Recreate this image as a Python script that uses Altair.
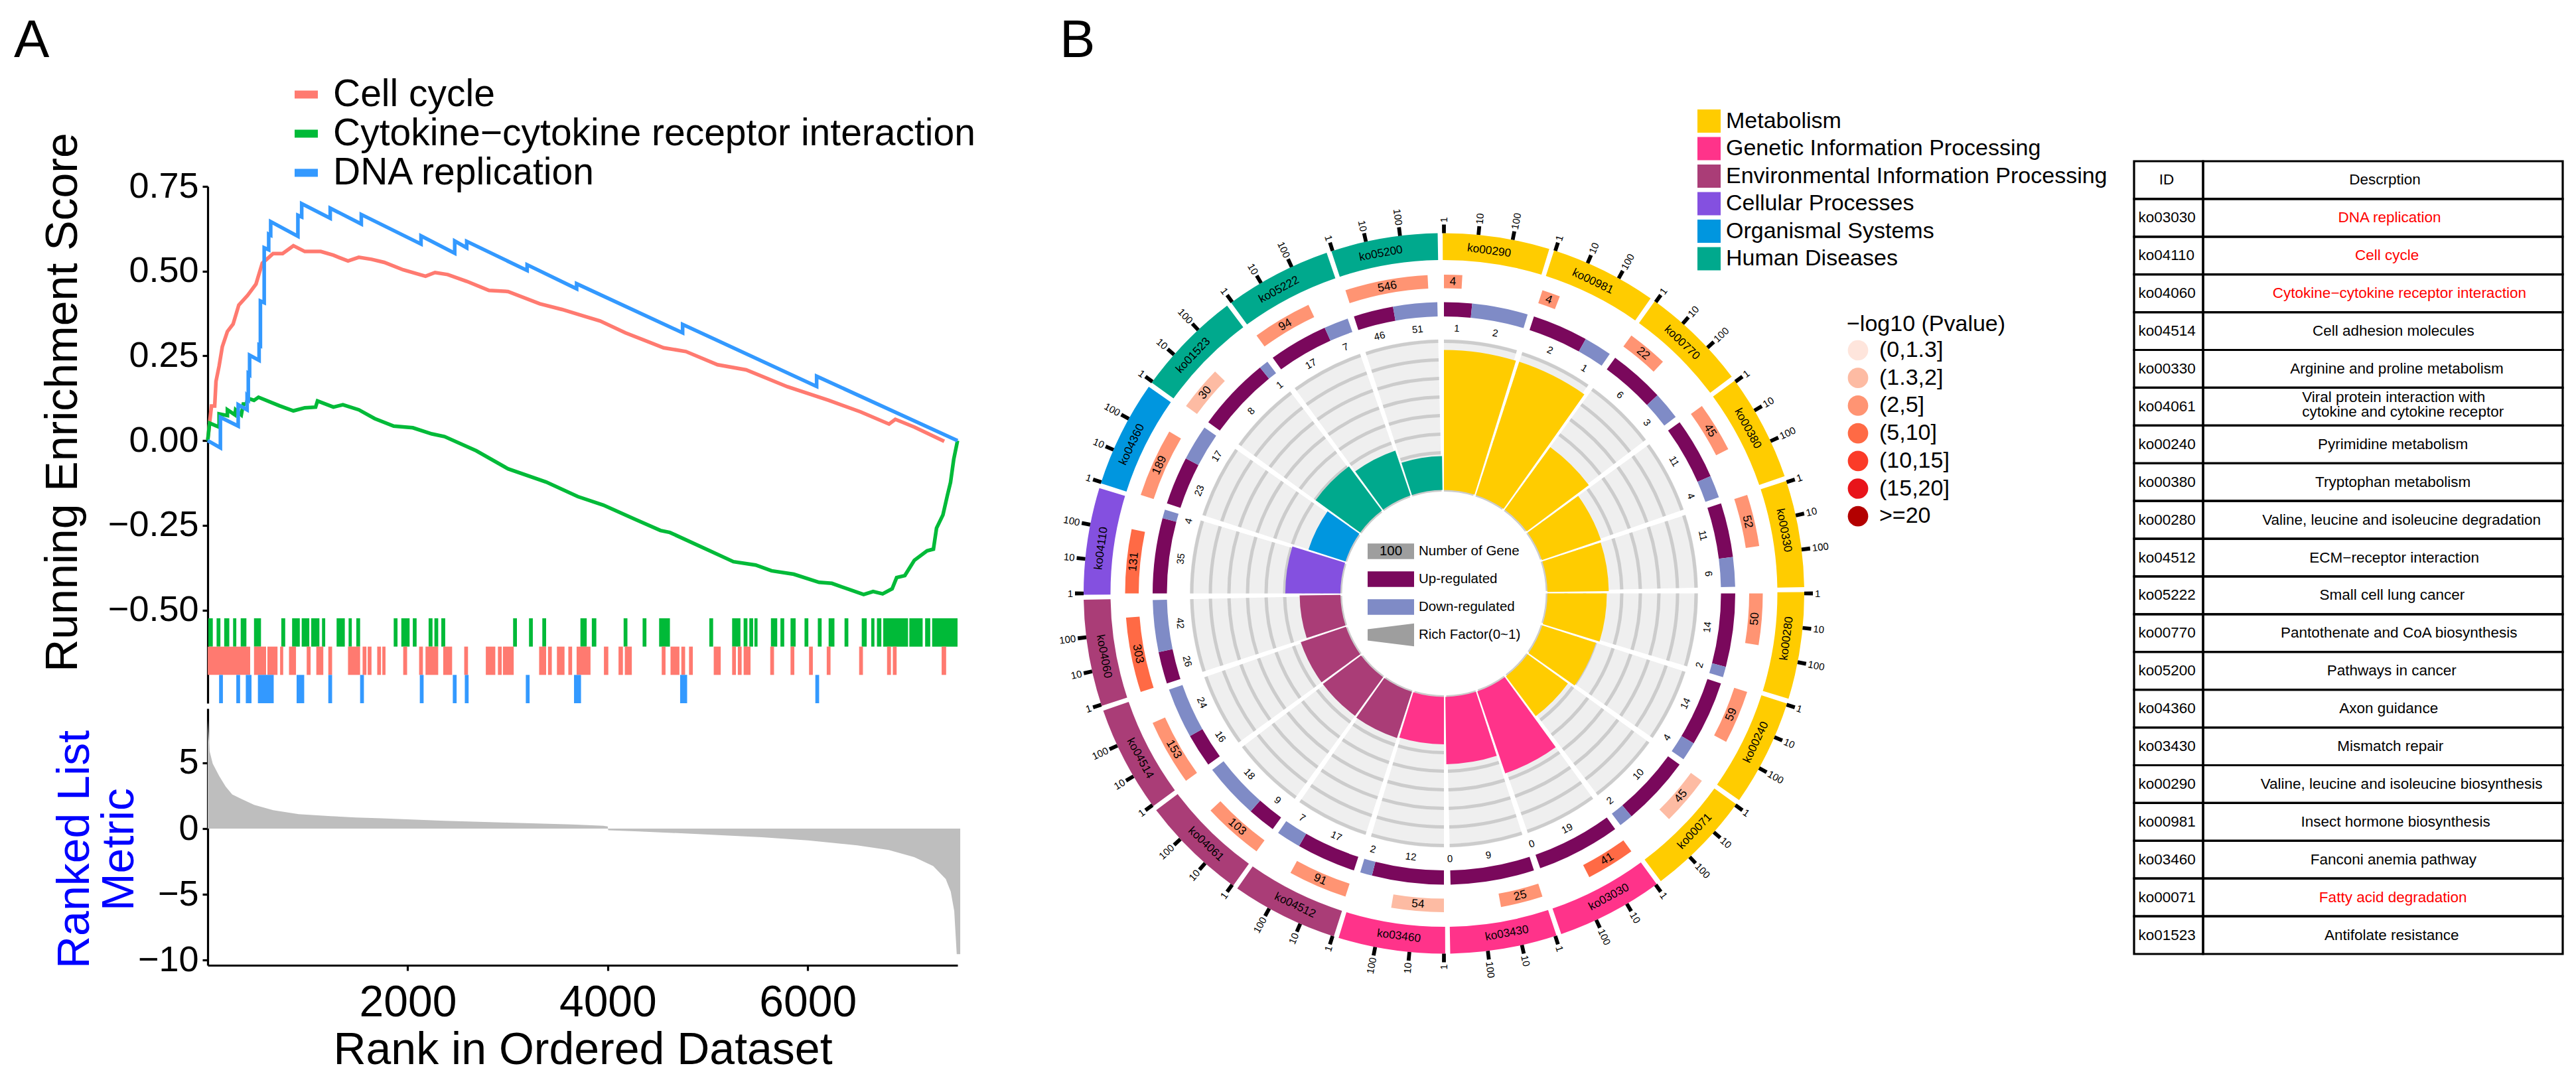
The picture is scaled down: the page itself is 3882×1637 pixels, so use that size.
import math
import altair as alt
import pandas as pd

FONT = "Liberation Sans"
W, H = 3866, 1621
CX, CY = 2168, 886.5

# ---------- Panel A ----------
rank_dna = [0,127,127,305,305,394,394,406,406,419,419,514,514,527,527,565,565,610,610,630,630,902,902,940,940,1225,1225,1536,1536,2133,2133,2470,2470,2590,2590,3194,3194,3689,3689,4749,4749,6089,6089,7498]
es_dna = [0,-.021,.069,.043,.106,.091,.130,.125,.198,.195,.252,.237,.282,.280,.412,.407,.569,.563,.609,.606,.646,.603,.665,.660,.699,.656,.686,.639,.667,.580,.604,.553,.589,.569,.588,.502,.519,.448,.463,.318,.343,.160,.190,0]
rank_cell = [0,19,38,70,83,114,146,197,254,311,400,483,546,590,654,749,857,971,1130,1257,1403,1511,1638,1765,1955,2178,2273,2400,2590,2813,3003,3320,3543,3765,3924,4178,4559,4781,5098,5384,5797,6209,6527,6813,6876,7066,7365]
es_cell = [0,.052,.102,.102,.175,.220,.277,.322,.344,.400,.429,.462,.524,.535,.552,.552,.575,.558,.558,.547,.530,.541,.535,.526,.504,.485,.496,.490,.470,.443,.440,.404,.387,.367,.353,.318,.274,.263,.224,.209,.159,.119,.085,.049,.063,.040,-.002]
rank_cyto = [0,19,114,114,197,197,273,279,336,356,387,400,463,508,717,857,971,1079,1098,1257,1352,1511,1670,1860,2051,2241,2368,2686,3003,3384,3701,3955,4273,4527,4622,5035,5257,5479,5638,5860,6114,6241,6559,6654,6749,6844,6889,6971,7066,7193,7257,7288,7352,7396,7428,7460,7498]
es_cyto = [0,.052,.040,.079,.074,.091,.076,.091,.076,.108,.108,.125,.119,.128,.103,.088,.097,.099,.117,.099,.106,.091,.065,.043,.038,.020,.012,-.030,-.083,-.122,-.165,-.190,-.232,-.265,-.271,-.327,-.357,-.367,-.384,-.394,-.418,-.421,-.454,-.445,-.452,-.437,-.404,-.398,-.353,-.325,-.320,-.258,-.219,-.162,-.123,-.055,0]
series_names = ["Cell cycle", "Cytokine\u2212cytokine receptor interaction", "DNA replication"]
series_colors = ["#FF7A70", "#00BA38", "#3399FF"]

rug_green = [(6,51),(89,127),(165,216),(254,286),(330,387),(463,533),(736,775),(844,921),(940,1016),(1035,1117),(1143,1175),(1289,1371),(1409,1441),(1486,1524),(1860,1898),(1936,2019),(2051,2089),(2209,2248),(2267,2305),(2336,2375),(3054,3092),(3213,3251),(3346,3384),(3727,3790),(3841,3886),(4159,4197),(4349,4387),(4514,4622),(5016,5054),(5244,5327),(5359,5397),(5416,5454),(5467,5498),(5632,5695),(5727,5765),(5828,5879),(5968,6006),(6101,6139),(6209,6267),(6368,6406),(6540,6590),(6635,6667),(6692,6736),(6755,7003),(7016,7149),(7174,7225),(7244,7498)]
rug_cell = [(0,425),(463,584),(597,698),(724,755),(813,883),(990,1029),(1086,1156),(1206,1244),(1403,1524),(1549,1587),(1600,1638),(1695,1733),(1746,1778),(1955,1994),(2114,2152),(2178,2305),(2355,2444),(2565,2603),(2781,2876),(2902,2940),(2952,3060),(3314,3384),(3403,3441),(3492,3568),(3606,3644),(3689,3828),(3962,4006),(4108,4152),(4171,4241),(4540,4578),(4628,4717),(4736,4774),(4813,4851),(5060,5130),(5244,5282),(5301,5339),(5359,5428),(5625,5663),(5828,5866),(6013,6051),(6190,6228),(6514,6552),(6793,6832),(6851,6889),(7339,7384)]
rug_dna = [(114,152),(286,324),(381,438),(502,660),(889,965),(1206,1244),(1524,1562),(2121,2159),(2451,2489),(2571,2609),(3181,3219),(3663,3733),(4724,4794),(6076,6114)]

metric_rank = [0,19,50,115,180,245,340,465,655,910,1230,1480,1740,2370,3000,3640,3955,4000,4005,4270,4905,5540,6000,6495,6810,7065,7255,7380,7430,7465,7490,7525]
metric_value = [8.25,5.9,4.95,4.0,3.2,2.6,2.25,1.8,1.4,1.1,.95,.85,.78,.6,.46,.32,.22,.17,-.12,-.2,-.41,-.65,-.9,-1.27,-1.63,-2.17,-2.85,-3.83,-4.8,-6.27,-9.56,-9.56]

# ---------- Panel B ----------
sector_ids = ["ko00290","ko00981","ko00770","ko00380","ko00330","ko00280","ko00240","ko00071","ko03030","ko03430","ko03460","ko04512","ko04061","ko04514","ko04060","ko04110","ko04360","ko01523","ko05222","ko05200"]
category_names = ["Metabolism","Genetic Information Processing","Environmental Information Processing","Cellular Processes","Organismal Systems","Human Diseases"]
category_colors = ["#FFCC00","#FF338A","#AA3D77","#8450E0","#0096DF","#00A98D"]
sector_category = [0,0,0,0,0,0,0,0,1,1,1,2,2,2,2,3,4,5,5,5]
gene_counts = [4,4,22,45,52,50,59,45,41,25,54,91,103,153,303,131,189,30,94,546]
pvalue_names = ["(0,1.3]","(1.3,2]","(2,5]","(5,10]","(10,15]","(15,20]",">=20"]
pvalue_colors = ["#FEE5DC","#FDBBA3","#FF9473","#FF6A45","#FB3B28","#E8141A","#B30000"]
sector_pvalue = [2,2,2,2,2,2,2,1,3,2,1,2,2,2,3,3,2,1,2,2]
up_genes = [1,2,6,11,11,14,14,10,19,9,12,17,9,16,26,35,23,8,17,46]
down_genes = [2,1,3,4,6,2,4,2,0,0,2,7,18,24,42,4,17,1,7,51]
rich_factor = [.93,.93,.514,.414,.407,.394,.374,.33,.575,.447,.315,.322,.317,.317,.271,.366,.258,.366,.315,.225]
tick_labels = ["1","10","100"]
key_labels = ["Number of Gene","Up-regulated","Down-regulated","Rich Factor(0~1)"]

# ---------- Table ----------
table_ids = ["ko03030","ko04110","ko04060","ko04514","ko00330","ko04061","ko00240","ko00380","ko00280","ko04512","ko05222","ko00770","ko05200","ko04360","ko03430","ko00290","ko00981","ko03460","ko00071","ko01523"]
table_desc = ["DNA replication","Cell cycle","Cytokine\u2212cytokine receptor interaction","Cell adhesion molecules","Arginine and proline metabolism","","Pyrimidine metabolism","Tryptophan metabolism","Valine, leucine and isoleucine degradation","ECM\u2212receptor interaction","Small cell lung cancer","Pantothenate and CoA biosynthesis","Pathways in cancer","Axon guidance","Mismatch repair","Valine, leucine and isoleucine biosynthesis","Insect hormone biosynthesis","Fanconi anemia pathway","Fatty acid degradation","Antifolate resistance"]
table_desc_pos = [.596,.590,.619,.605,.613,.628,.604,.604,.624,.607,.602,.618,.601,.594,.598,.624,.610,.605,.604,.601]
table_red = ["DNA replication","Cell cycle","Cytokine\u2212cytokine receptor interaction","Fatty acid degradation"]

# ---------- tables built from the lists ----------
def path(name, ranks, vals):
    return [{"series": name, "rank": r, "es": v, "i": i} for i, (r, v) in enumerate(zip(ranks, vals))]

es_df = pd.DataFrame(path(series_names[0], rank_cell, es_cell) + path(series_names[1], rank_cyto, es_cyto) + path(series_names[2], rank_dna, es_dna))
rug_rows = []
for row, (name, pairs) in enumerate([(series_names[1], rug_green), (series_names[0], rug_cell), (series_names[2], rug_dna)]):
    for a, b in pairs:
        rug_rows.append({"series": name, "a": a, "b": b, "r0": row, "r1": row + 1})
rug_df = pd.DataFrame(rug_rows)
metric_df = pd.DataFrame({"rank": metric_rank, "v": metric_value, "base": 0})

def rot(a):
    a = a % 360
    return a if (a < 90 or a > 270) else a - 180

STEP, SPAN, DECADE = 18.0, 16.7, 5.5
sec = pd.DataFrame({"id": sector_ids, "k": range(20)})
sec["start"] = sec.k * STEP
sec["cat"] = [category_names[i] for i in sector_category]
sec["a0"] = sec.start - 0.2
sec["a1"] = sec.start + 17.0
sec["la"] = sec.start + 7.5
sec["lrot"] = sec.la.map(rot)
sec["w0"] = sec.start
sec["w1"] = sec.start + 17.2
sec["rich"] = rich_factor
sec["base"] = 0
sec["b0"] = sec.start
sec["b1"] = sec.start + SPAN
sec["count"] = gene_counts
sec["pval"] = [pvalue_names[i] for i in sector_pvalue]
sec["c1"] = [s + DECADE * math.log10(n) for s, n in zip(sec.start, gene_counts)]
sec["cm"] = (sec.start + sec.c1) / 2
sec["crot"] = sec.cm.map(rot)

ud = []
for s, u, d in zip(sec.start, up_genes, down_genes):
    m = s + SPAN * u / (u + d)
    ud.append({"kind": "Up", "t0": s, "t1": m, "n": u, "tm": (s + m) / 2, "rot": rot((s + m) / 2)})
    ud.append({"kind": "Down", "t0": m, "t1": s + SPAN, "n": d, "tm": (m + s + SPAN) / 2, "rot": rot((m + s + SPAN) / 2)})
ud_df = pd.DataFrame(ud)

grid_df = pd.DataFrame([{"t0": s, "t1": s + SPAN, "l0": lv - 0.09, "l1": lv + 0.09} for s in sec.start for lv in range(9)])

ticks = []
for s in sec.start:
    for j, lab in enumerate(tick_labels):
        a = s + j * DECADE
        ticks.append({"a": a, "a0": a - 0.3, "a1": a + 0.3, "lab": lab, "right": a < 180, "rot": (a - 90) % 360 if a < 180 else (a + 90) % 360})
tick_df = pd.DataFrame(ticks)

# ---------- scales ----------
theta_scale = alt.Scale(domain=[0, 360], range=[0, 2 * math.pi])
def TH(f):
    return alt.Theta(f, type="quantitative", stack=None, scale=theta_scale)
def TH2(f):
    return alt.Theta2(f)

rank_x = alt.Scale(domain=[0, 7498], range=[305, 1435], nice=False, zero=False)
es_y = alt.Scale(domain=[-0.7746, 0.75], range=[1052, 273], nice=False, zero=False)
rug_y = alt.Scale(domain=[0, 3], range=[924, 1052], nice=False, zero=False)
metric_y = alt.Scale(domain=[-10.4, 9.14], range=[1447, 1060], nice=False, zero=False)

AXIS = dict(domainColor="black", domainWidth=3.2, tickColor="black", tickWidth=3.2, tickSize=8, grid=False, labelColor="black", labelFont=FONT)

layers = []

# panel letters
for letter, px in (("A", 13), ("B", 1589)):
    layers.append(alt.Chart(pd.DataFrame({"t": [letter]})).mark_text(font=FONT, fontSize=80, align="left", baseline="alphabetic", color="black").encode(
        x=alt.value(px), y=alt.value(78), text="t:N"))

# rug
layers.append(alt.Chart(rug_df).mark_rect().encode(
    x=alt.X("a:Q", scale=rank_x, axis=None), x2="b:Q",
    y=alt.Y("r0:Q", scale=rug_y, axis=None), y2="r1:Q",
    color=alt.Color("series:N", scale=alt.Scale(domain=series_names, range=series_colors), legend=None)))

# running score lines
layers.append(alt.Chart(es_df).mark_line(strokeWidth=5.5, strokeJoin="miter").encode(
    x=alt.X("rank:Q", scale=rank_x, axis=None),
    y=alt.Y("es:Q", scale=es_y, axis=alt.Axis(orient="left", offset=-305, values=[-0.5, -0.25, 0, 0.25, 0.5, 0.75], format=".2f",
        title="Running Enrichment Score", titleFontSize=68, titleFont=FONT, titleFontWeight="normal", titleColor="black",
        titleX=-184, titleY=598, titleAngle=-90, titleAlign="center", labelFontSize=54, labelPadding=6, **AXIS)),
    color=alt.Color("series:N", scale=alt.Scale(domain=series_names, range=series_colors), title=None,
        legend=alt.Legend(orient="none", legendX=425, legendY=106, symbolType="stroke", symbolSize=1225, symbolStrokeWidth=12,
            labelFontSize=57, labelFont=FONT, labelColor="black", labelLimit=2000, rowPadding=1, labelOffset=12)),
    order="i:Q"))

# ranked metric
layers.append(alt.Chart(metric_df).mark_area(color="#BEBEBE").encode(
    x=alt.X("rank:Q", scale=rank_x, axis=alt.Axis(orient="bottom", offset=-174, values=[2000, 4000, 6000], format="d",
        title="Rank in Ordered Dataset", titleFontSize=68, titleFont=FONT, titleFontWeight="normal", titleColor="black",
        titleX=870, titleY=128, titleBaseline="middle", labelFontSize=66, labelPadding=16, **AXIS)),
    y=alt.Y("v:Q", stack=None, scale=metric_y, axis=alt.Axis(orient="left", offset=-305, values=[-10, -5, 0, 5], format="d",
        title=["Ranked List", "Metric"], titleFontSize=68, titleFont=FONT, titleFontWeight="normal", titleColor="#0000FF",
        titleX=-166, titleY=1272, titleAngle=-90, titleAlign="center", titleLineHeight=67, labelFontSize=54, labelPadding=6, **AXIS)),
    y2="base:Q"))

# circular: background, grid
layers.append(alt.Chart(sec).mark_arc(x=CX, y=CY, radius=383, radius2=156, color="#EFEFEF").encode(theta=TH("b0"), theta2=TH2("b1")))
grid_r = alt.Scale(type="linear", domain=[0, 8], range=[156, 380], zero=False, nice=False)
layers.append(alt.Chart(grid_df).mark_arc(x=CX, y=CY, color="#CCCCCC").encode(
    theta=TH("t0"), theta2=TH2("t1"), radius=alt.Radius("l0:Q", scale=grid_r), radius2="l1:Q"))
# rich factor wedges
cat_scale = alt.Scale(domain=category_names, range=category_colors)
rich_r = alt.Scale(type="linear", domain=[0, 1], range=[156, 383], zero=False, nice=False)
layers.append(alt.Chart(sec).mark_arc(x=CX, y=CY).encode(
    theta=TH("w0"), theta2=TH2("w1"), radius=alt.Radius("rich:Q", scale=rich_r), radius2="base:Q",
    color=alt.Color("cat:N", scale=cat_scale, legend=None)))
# up/down ring
layers.append(alt.Chart(ud_df).mark_arc(x=CX, y=CY, radius=439, radius2=417.5).encode(
    theta=TH("t0"), theta2=TH2("t1"),
    color=alt.Color("kind:N", scale=alt.Scale(domain=["Up", "Down"], range=["#7A085C", "#7F8BC6"]), legend=None)))
layers.append(alt.Chart(ud_df).mark_text(x=CX, y=CY, radius=400, font=FONT, fontSize=15, color="black").encode(
    theta=TH("tm"), angle=alt.Angle("rot:Q", scale=None), text="n:Q"))
# gene count ring
layers.append(alt.Chart(sec).mark_arc(x=CX, y=CY, radius=480.5, radius2=460).encode(
    theta=TH("b0"), theta2=TH2("c1"),
    color=alt.Color("pval:N", scale=alt.Scale(domain=pvalue_names, range=pvalue_colors), title="\u2212log10 (Pvalue)",
        legend=alt.Legend(orient="none", legendX=2775, legendY=464, symbolType="circle", symbolSize=945, symbolStrokeWidth=0, symbolOpacity=1,
            labelFontSize=34, labelFont=FONT, labelColor="black", titleFontSize=34, titleFont=FONT, titleFontWeight="normal", titleColor="black",
            labelLimit=1000, titleLimit=1000, rowPadding=7.7, labelOffset=15))))
layers.append(alt.Chart(sec).mark_text(x=CX, y=CY, radius=470, font=FONT, fontSize=17.5, color="black").encode(
    theta=TH("cm"), angle=alt.Angle("crot:Q", scale=None), text="count:Q"))
# outer ring
layers.append(alt.Chart(sec).mark_arc(x=CX, y=CY, radius=543, radius2=502.5).encode(
    theta=TH("a0"), theta2=TH2("a1"),
    color=alt.Color("cat:N", scale=cat_scale, title=None,
        legend=alt.Legend(orient="none", legendX=2550, legendY=157, symbolType="square", symbolSize=1225, symbolStrokeWidth=0, symbolOpacity=1,
            labelFontSize=34, labelFont=FONT, labelColor="black", labelLimit=2000, rowPadding=6.5, labelOffset=8))))
layers.append(alt.Chart(sec).mark_text(x=CX, y=CY, radius=521, font=FONT, fontSize=17.3, color="black").encode(
    theta=TH("la"), angle=alt.Angle("lrot:Q", scale=None), text="id:N"))
# axis ticks
layers.append(alt.Chart(tick_df).mark_arc(x=CX, y=CY, radius=556, radius2=543, color="black").encode(theta=TH("a0"), theta2=TH2("a1")))
layers.append(alt.Chart(tick_df[tick_df.right]).mark_text(x=CX, y=CY, radius=559, font=FONT, fontSize=15, color="black", align="left").encode(
    theta=TH("a"), angle=alt.Angle("rot:Q", scale=None), text="lab:N"))
layers.append(alt.Chart(tick_df[~tick_df.right]).mark_text(x=CX, y=CY, radius=559, font=FONT, fontSize=15, color="black", align="right").encode(
    theta=TH("a"), angle=alt.Angle("rot:Q", scale=None), text="lab:N"))

# centre key
key_x = alt.Scale(domain=[0, 1], range=[2053, 2123], nice=False, zero=False)
key_y = alt.Scale(domain=[0, 3], range=[823, 949], nice=False, zero=False)
key_rect = pd.DataFrame({"x0": [0, 0, 0], "x1": [1, 1, 1], "y0": [-0.28, 0.72, 1.72], "y1": [0.28, 1.28, 2.28], "c": ["#9E9E9E", "#7A085C", "#7F8BC6"]})
layers.append(alt.Chart(key_rect).mark_rect().encode(
    x=alt.X("x0:Q", scale=key_x, axis=None), x2="x1:Q", y=alt.Y("y0:Q", scale=key_y, axis=None), y2="y1:Q",
    color=alt.Color("c:N", scale=None)))
key_wedge = pd.DataFrame({"x": [0, 1], "top": [2.8, 2.59], "bot": [3.2, 3.41]})
layers.append(alt.Chart(key_wedge).mark_area(color="#9E9E9E").encode(
    x=alt.X("x:Q", scale=key_x, axis=None), y=alt.Y("top:Q", stack=None, scale=key_y, axis=None), y2="bot:Q"))
layers.append(alt.Chart(pd.DataFrame({"x": [0.5], "y": [0], "t": ["100"]})).mark_text(font=FONT, fontSize=20.5, color="black").encode(
    x=alt.X("x:Q", scale=key_x, axis=None), y=alt.Y("y:Q", scale=key_y, axis=None), text="t:N"))
layers.append(alt.Chart(pd.DataFrame({"x": [1.1] * 4, "y": [0, 1, 2, 3], "t": key_labels})).mark_text(font=FONT, fontSize=20.5, color="black", align="left").encode(
    x=alt.X("x:Q", scale=key_x, axis=None), y=alt.Y("y:Q", scale=key_y, axis=None), text="t:N"))

# table
tx = alt.Scale(domain=[0, 1], range=[3208, 3854], nice=False, zero=False)
ty = alt.Scale(domain=[0, 21], range=[235, 1430], nice=False, zero=False)
cells = pd.DataFrame([{"x0": a, "x1": b, "y0": r, "y1": r + 1} for r in range(21) for a, b in ((0, .161), (.161, 1))])
layers.append(alt.Chart(cells).mark_rect(fillOpacity=0, stroke="black", strokeWidth=3.2).encode(
    x=alt.X("x0:Q", scale=tx, axis=None), x2="x1:Q", y=alt.Y("y0:Q", scale=ty, axis=None), y2="y1:Q"))
tfont = dict(font=FONT, fontSize=22.5)
layers.append(alt.Chart(pd.DataFrame({"x": [.076, .585], "y": [.5, .5], "t": ["ID", "Descrption"]})).mark_text(color="black", **tfont).encode(
    x=alt.X("x:Q", scale=tx, axis=None), y=alt.Y("y:Q", scale=ty, axis=None), text="t:N"))
layers.append(alt.Chart(pd.DataFrame({"x": [.010] * 20, "y": [i + 1.5 for i in range(20)], "t": table_ids})).mark_text(color="black", align="left", **tfont).encode(
    x=alt.X("x:Q", scale=tx, axis=None), y=alt.Y("y:Q", scale=ty, axis=None), text="t:N"))
desc_df = pd.DataFrame({"x": table_desc_pos, "y": [i + 1.5 for i in range(20)], "t": table_desc,
                        "c": ["#FF0000" if d in table_red else "black" for d in table_desc]})
layers.append(alt.Chart(desc_df).mark_text(**tfont).encode(
    x=alt.X("x:Q", scale=tx, axis=None), y=alt.Y("y:Q", scale=ty, axis=None), text="t:N", color=alt.Color("c:N", scale=None)))
layers.append(alt.Chart(pd.DataFrame({"x": [.392, .392], "y": [6.25, 6.65], "t": ["Viral protein interaction with", "cytokine and cytokine receptor"]})).mark_text(color="black", align="left", **tfont).encode(
    x=alt.X("x:Q", scale=tx, axis=None), y=alt.Y("y:Q", scale=ty, axis=None), text="t:N"))

chart = alt.layer(*layers).resolve_scale(
    x="independent", y="independent", color="independent", radius="independent"
).resolve_axis(x="independent", y="independent").properties(
    width=W, height=H, padding=0, autosize=alt.AutoSizeParams(type="none"),
    view=alt.ViewBackground(stroke="transparent")
).configure(font=FONT, view=alt.ViewConfig(stroke="transparent"))

chart.save("out.html", embed_options={"renderer": "svg", "actions": False})
